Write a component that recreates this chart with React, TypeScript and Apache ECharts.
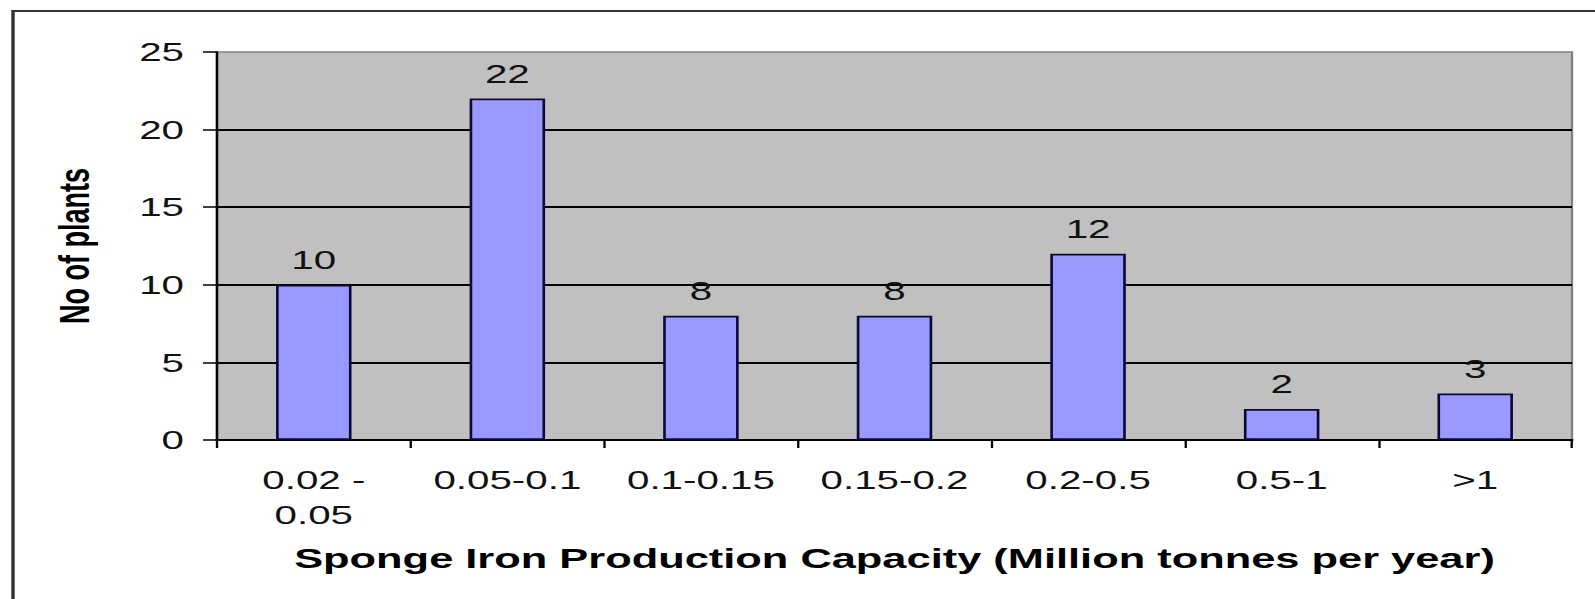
import React, { useEffect, useRef } from "react";
import * as echarts from "echarts";

const categories = ["0.02 - 0.05", "0.05-0.1", "0.1-0.15", "0.15-0.2", "0.2-0.5", "0.5-1", ">1"];
const plantCounts = [10, 22, 8, 8, 12, 2, 3];
const yTickLabels = ["0", "5", "10", "15", "20", "25"];
const xAxisTitle = "Sponge Iron Production Capacity (Million tonnes per year)";
const yAxisTitle = "No of plants";

const STRETCH = 1.55;
const PAGE_W = 1595;
const PAGE_H = 599;
const W = PAGE_W / STRETCH;
const sx = (x: number) => x / STRETCH;

export default function App() {
  const ref = useRef<HTMLDivElement>(null);
  useEffect(() => {
    document.documentElement.style.overflow = "hidden";
    document.body.style.overflow = "hidden";
    if (!ref.current) return;
    const chart = echarts.init(ref.current, undefined, { renderer: "svg" });
    const font = "'Liberation Sans', Arial, sans-serif";
    chart.setOption({
      animation: false,
      backgroundColor: "#ffffff",
      grid: {
        left: sx(217),
        width: sx(1355),
        top: 52,
        height: 388,
        show: true,
        backgroundColor: "#c0c0c0",
        borderColor: "#808080",
        borderWidth: 1.5,
      },
      graphic: [
        {
          type: "polyline",
          shape: { points: [[sx(13), PAGE_H + 5], [sx(13), 11], [W + 5, 11]] },
          style: { stroke: "#333", lineWidth: 2.2, fill: "none" },
          silent: true,
        },
      ],
      xAxis: {
        type: "category",
        data: categories,
        boundaryGap: true,
        axisLine: { show: true, lineStyle: { color: "#000", width: 2 } },
        axisTick: { show: true, alignWithLabel: false, length: 8, lineStyle: { color: "#000", width: 1.5 } },
        axisLabel: {
          interval: 0,
          margin: 22,
          color: "#111",
          fontFamily: font,
          fontSize: 26,
          lineHeight: 35,
          formatter: (v: string) => v.replace(" - ", " -\n"),
        },
        name: xAxisTitle,
        nameLocation: "middle",
        nameGap: 104,
        nameTextStyle: { color: "#000", fontFamily: font, fontSize: 28, fontWeight: "bold", lineHeight: 28 },
        splitLine: { show: false },
      },
      yAxis: {
        type: "value",
        min: 0,
        max: 25,
        interval: 5,
        axisLine: { show: true, lineStyle: { color: "#000", width: 1.6 } },
        axisTick: { show: true, length: sx(14), lineStyle: { color: "#000", width: 1.5 } },
        axisLabel: {
          margin: sx(33),
          color: "#111",
          fontFamily: font,
          fontSize: 26,
          formatter: (v: number) => yTickLabels[Math.round(v / 5)] ?? String(v),
        },
        splitLine: { show: true, showMaxLine: false, lineStyle: { color: "#000", width: 2 } },
        name: yAxisTitle,
        nameLocation: "middle",
        nameRotate: 90,
        nameGap: sx(122),
        nameTextStyle: { color: "#000", fontFamily: font, fontSize: 27, fontWeight: "bold" },
      },
      series: [
        {
          type: "bar",
          data: plantCounts,
          barWidth: "39%",
          itemStyle: { color: "#9999ff", borderColor: "#0a0a3a", borderWidth: 1.7 },
          label: {
            show: true,
            position: "top",
            distance: 12,
            color: "#111",
            fontFamily: font,
            fontSize: 26,
          },
        },
      ],
    });
    return () => chart.dispose();
  }, []);
  return (
    <div
      ref={ref}
      style={{
        position: "absolute",
        left: 0,
        top: 0,
        width: W,
        height: PAGE_H,
        transform: `scaleX(${STRETCH})`,
        transformOrigin: "0 0",
        background: "#fff",
      }}
    />
  );
}
